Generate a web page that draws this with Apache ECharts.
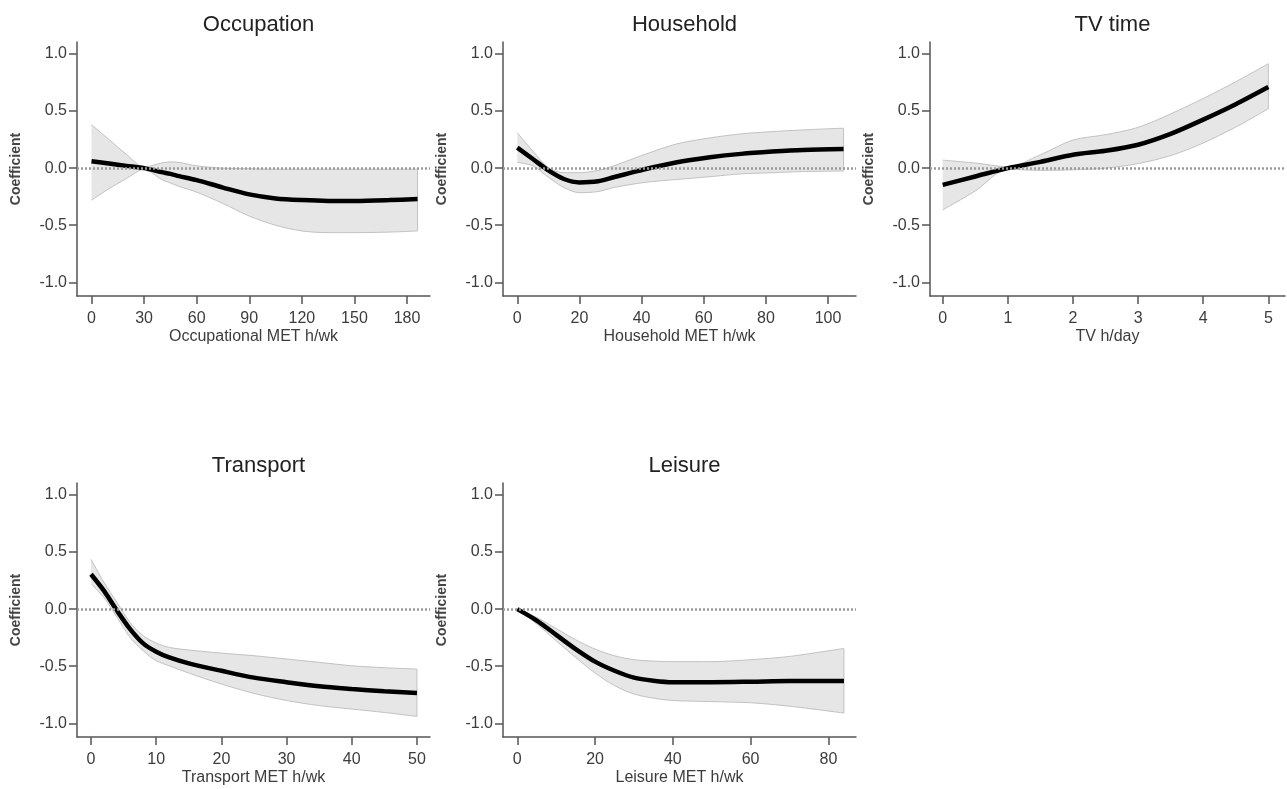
<!DOCTYPE html>
<html>
<head>
<meta charset="utf-8">
<script src="https://cdn.jsdelivr.net/npm/echarts@6/dist/echarts.min.js"></script>
<style>
  html, body { margin: 0; padding: 0; background: #fff; }
  #main { width: 1287px; height: 789px; }
</style>
</head>
<body>
<div id="main"></div>
<script>
// values
var occX    = [0, 10, 20, 30, 40, 45, 50, 60, 75, 90, 105, 120, 135, 150, 170, 186];
var occCoef = [0.06, 0.04, 0.02, 0.0, -0.035, -0.05, -0.07, -0.105, -0.17, -0.23, -0.265, -0.28, -0.287, -0.287, -0.28, -0.27];
var occHigh = [0.38, 0.25, 0.12, 0.01, 0.045, 0.055, 0.05, 0.02, 0.0, -0.005, -0.01, -0.01, -0.01, -0.01, -0.01, -0.01];
var occLow  = [-0.28, -0.18, -0.09, -0.01, -0.10, -0.13, -0.16, -0.21, -0.31, -0.42, -0.50, -0.55, -0.565, -0.565, -0.56, -0.55];

var houX    = [0, 5, 10, 15, 20, 26, 31, 41, 51, 62, 72, 82, 92, 105];
var houCoef = [0.18, 0.08, -0.02, -0.095, -0.125, -0.115, -0.08, -0.01, 0.05, 0.095, 0.125, 0.145, 0.16, 0.168];
var houHigh = [0.31, 0.15, 0.005, -0.04, -0.04, -0.02, 0.02, 0.12, 0.21, 0.265, 0.30, 0.32, 0.335, 0.35];
var houLow  = [0.05, 0.02, -0.08, -0.17, -0.215, -0.205, -0.17, -0.125, -0.10, -0.075, -0.05, -0.04, -0.03, -0.025];

var tvX    = [0, 0.5, 1, 1.5, 2, 2.5, 3, 3.5, 4, 4.5, 5];
var tvCoef = [-0.146, -0.073, 0, 0.055, 0.117, 0.152, 0.205, 0.30, 0.425, 0.56, 0.71];
var tvHigh = [0.07, 0.045, 0.012, 0.117, 0.246, 0.293, 0.357, 0.475, 0.61, 0.757, 0.915];
var tvLow  = [-0.366, -0.20, -0.01, -0.02, -0.015, 0.0, 0.04, 0.11, 0.22, 0.36, 0.52];

var traX    = [0, 2, 4, 6, 8, 10, 12, 15, 20, 25, 30, 35, 40, 45, 50];
var traCoef = [0.306, 0.16, -0.015, -0.175, -0.30, -0.373, -0.423, -0.475, -0.54, -0.60, -0.64, -0.676, -0.70, -0.72, -0.735];
var traHigh = [0.437, 0.233, 0.058, -0.117, -0.233, -0.297, -0.335, -0.358, -0.385, -0.408, -0.437, -0.466, -0.496, -0.513, -0.525];
var traLow  = [0.22, 0.10, -0.073, -0.248, -0.364, -0.452, -0.496, -0.56, -0.656, -0.738, -0.80, -0.845, -0.875, -0.905, -0.94];

var leiX    = [0, 5, 10, 15, 20, 25, 30, 35, 40, 50, 60, 70, 84];
var leiCoef = [0, -0.10, -0.225, -0.35, -0.46, -0.54, -0.60, -0.627, -0.64, -0.64, -0.636, -0.63, -0.63];
var leiHigh = [0, -0.073, -0.17, -0.268, -0.35, -0.408, -0.443, -0.455, -0.46, -0.46, -0.443, -0.414, -0.344];
var leiLow  = [0, -0.13, -0.277, -0.423, -0.56, -0.67, -0.743, -0.78, -0.80, -0.81, -0.82, -0.85, -0.91];

var titles = ['Occupation', 'Household', 'TV time', 'Transport', 'Leisure'];
var xNames = ['Occupational MET h/wk', 'Household MET h/wk', 'TV h/day', 'Transport MET h/wk', 'Leisure MET h/wk'];
var xTicks = [
  [0, 30, 60, 90, 120, 150, 180],
  [0, 20, 40, 60, 80, 100],
  [0, 1, 2, 3, 4, 5],
  [0, 10, 20, 30, 40, 50],
  [0, 20, 40, 60, 80]
];
var yTicks = [-1, -0.5, 0, 0.5, 1];

var panelData = [
  [occX, occCoef, occHigh, occLow],
  [houX, houCoef, houHigh, houLow],
  [tvX, tvCoef, tvHigh, tvLow],
  [traX, traCoef, traHigh, traLow],
  [leiX, leiCoef, leiHigh, leiLow]
];

// layout (pixels) and axis extents
var layout = [
  { left: 77,  top: 42,  width: 353, xMin: -8.27, xMax: 193.1 },
  { left: 503, top: 42,  width: 353, xMin: -4.6,  xMax: 109.0 },
  { left: 930, top: 42,  width: 355, xMin: -0.195, xMax: 5.256 },
  { left: 77,  top: 483, width: 353, xMin: -2.15, xMax: 52.0 },
  { left: 503, top: 483, width: 353, xMin: -3.68, xMax: 87.1 }
];

var FONT = 'Arial, "Liberation Sans", sans-serif';
var axisColor = '#555';
var textColor = '#3c3c3c';
var bandFill = '#e6e6e6';
var bandEdge = '#c2c2c2';
var Y_MIN = -1.12, Y_MAX = 1.105;
var FILL_BASE = -1.1; // areas are filled down to here, just above the x axis line

var chartDom = document.getElementById('main');
var myChart = echarts.init(chartDom);

var grid = [], xAxis = [], yAxis = [], series = [], title = [];

panelData.forEach(function (p, i) {
  var L = layout[i];
  grid.push({ left: L.left, top: L.top, width: L.width, height: 254 });
  title.push({
    text: titles[i],
    left: L.left + L.width / 2,
    top: L.top - 33,
    textAlign: 'center',
    textStyle: { fontFamily: FONT, fontSize: 22, fontWeight: 'normal', color: '#222' }
  });
  xAxis.push({
    type: 'value', gridIndex: i, min: L.xMin, max: L.xMax,
    name: xNames[i], nameLocation: 'middle', nameGap: 33,
    nameTextStyle: { fontFamily: FONT, fontSize: 16, color: textColor },
    axisLine: { onZero: false, lineStyle: { color: axisColor, width: 1.5 } },
    axisTick: { customValues: xTicks[i], length: 8, lineStyle: { color: axisColor, width: 1.5 } },
    axisLabel: { customValues: xTicks[i], margin: 15, fontFamily: FONT, fontSize: 16, color: textColor },
    splitLine: { show: false }
  });
  yAxis.push({
    type: 'value', gridIndex: i, min: Y_MIN, max: Y_MAX,
    name: 'Coefficient', nameLocation: 'middle', nameGap: 54,
    nameTextStyle: { fontFamily: FONT, fontSize: 14, fontWeight: 'bold', color: '#444' },
    axisLine: { show: true, onZero: false, lineStyle: { color: axisColor, width: 1.5 } },
    axisTick: { show: true, customValues: yTicks, length: 8, lineStyle: { color: axisColor, width: 1.5 } },
    axisLabel: {
      customValues: yTicks, margin: 10, fontFamily: FONT, fontSize: 16, color: textColor,
      formatter: function (v) { return v.toFixed(1); }
    },
    splitLine: { show: false }
  });

  var xs = p[0], coef = p[1], high = p[2], low = p[3];
  var last = xs.length - 1;
  // upper bound: grey area down to the base
  series.push({
    type: 'line', xAxisIndex: i, yAxisIndex: i,
    smooth: 0.3, symbol: 'none', z: 1,
    lineStyle: { color: bandEdge, width: 1 },
    areaStyle: { color: bandFill, opacity: 1, origin: FILL_BASE },
    data: xs.map(function (x, k) { return [x, high[k]]; })
  });
  // lower bound: white area below it clears the band's underside
  series.push({
    type: 'line', xAxisIndex: i, yAxisIndex: i,
    smooth: 0.3, symbol: 'none', z: 1,
    lineStyle: { color: bandEdge, width: 1 },
    areaStyle: { color: '#fff', opacity: 1, origin: FILL_BASE },
    data: xs.map(function (x, k) { return [x, low[k]]; })
  });
  // wipe the anti-aliased grey seams left under both ends of the band
  [0, last].forEach(function (k) {
    series.push({
      type: 'line', xAxisIndex: i, yAxisIndex: i,
      symbol: 'none', z: 1, silent: true,
      lineStyle: { color: '#fff', width: 2.5 },
      data: [[xs[k], low[k] - 0.01], [xs[k], FILL_BASE]]
    });
  });
  // right-hand edge of the band + dotted zero line
  series.push({
    type: 'line', xAxisIndex: i, yAxisIndex: i,
    symbol: 'none', z: 2,
    lineStyle: { color: bandEdge, width: 1 },
    data: [[xs[last], low[last]], [xs[last], high[last]]],
    markLine: {
      silent: true, symbol: ['none', 'none'], label: { show: false },
      lineStyle: { color: '#9a9a9a', type: [2, 2], width: 2.5 },
      data: [{ yAxis: 0 }]
    }
  });
  // fitted coefficient
  series.push({
    type: 'line', xAxisIndex: i, yAxisIndex: i,
    smooth: 0.3, symbol: 'none', z: 3,
    lineStyle: { color: '#000', width: 4.5 },
    data: xs.map(function (x, k) { return [x, coef[k]]; })
  });
});

var option = {
  animation: false,
  backgroundColor: '#fff',
  title: title,
  grid: grid,
  xAxis: xAxis,
  yAxis: yAxis,
  series: series
};

option && myChart.setOption(option);
</script>
</body>
</html>
